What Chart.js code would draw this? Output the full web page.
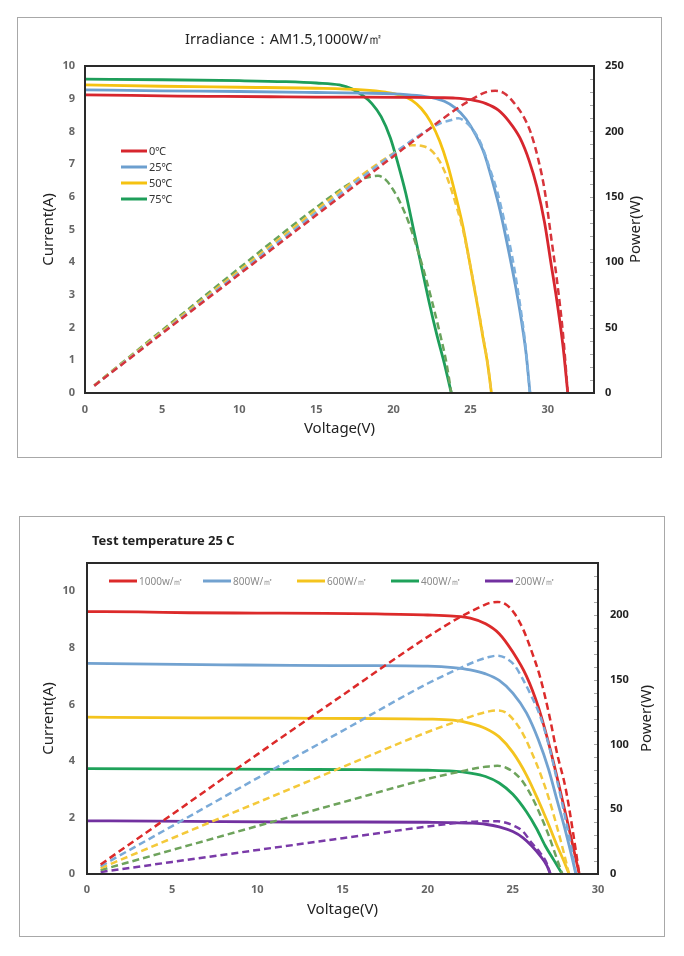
<!DOCTYPE html>
<html>
<head>
<meta charset="utf-8">
<script src="https://cdn.jsdelivr.net/npm/chart.js@4.4.0/dist/chart.umd.min.js"></script>
<style>
body { margin: 0; background: #fff; font-family: "Noto Sans", sans-serif; }
.frame { position: absolute; border: 1px solid #a8a8a8; }
.frame canvas { position: absolute; left: 0; top: 0; }
.caption { position: absolute; color: #222; white-space: nowrap; }
</style>
</head>
<body>
<div class="frame" style="left:17px;top:17px;width:643px;height:439px">
  <canvas id="tempChart" width="643" height="439"></canvas>
</div>
<div class="caption" style="left:185px;top:28px;font-size:14.5px;line-height:20px">Irradiance：AM1.5,1000W/㎡</div>

<div class="frame" style="left:19px;top:516px;width:644px;height:419px">
  <canvas id="irrChart" width="644" height="419"></canvas>
</div>
<div class="caption" style="left:92px;top:531px;font-size:13px;line-height:18px;font-weight:bold">Test temperature 25 C</div>

<script>
// ---- top chart: temperature, 1000W/m2 ([voltage, value]) ----
var tempLabels = ['0℃', '25℃', '50℃', '75℃'];
var tempColors = ['#d7262e', '#6c9fcf', '#f5c211', '#1e9e5a'];
var tempDashColors = ['#d7343b', '#7eb0dc', '#f2c53a', '#6aa35c'];

var ivT0 = [[0,9.12],[3,9.1],[6,9.08],[9,9.07],[12,9.06],[15,9.05],[18,9.05],[21,9.04],[23,9.03],[24,9.02],[25,8.97],[26,8.85],[26.8,8.65],[27.5,8.3],[28.2,7.8],[28.8,7.1],[29.3,6.3],[29.8,5.2],[30.2,4.0],[30.6,2.8],[31.0,1.4],[31.3,0]];
var ivT25 = [[0,9.27],[5,9.24],[10,9.22],[15,9.19],[18,9.17],[20,9.15],[21.5,9.1],[22.5,9.03],[23.3,8.92],[24,8.72],[24.7,8.38],[25.3,7.92],[25.9,7.3],[26.4,6.5],[26.9,5.6],[27.4,4.5],[27.9,3.3],[28.3,2.2],[28.6,1.2],[28.85,0]];
var ivT50 = [[0,9.42],[5,9.38],[10,9.35],[15,9.32],[18,9.27],[19.5,9.2],[20.5,9.1],[21.2,8.95],[21.8,8.7],[22.4,8.3],[23,7.7],[23.5,7.0],[24,6.1],[24.5,5.1],[24.9,4.1],[25.4,2.8],[25.8,1.7],[26.1,0.9],[26.35,0]];
var ivT75 = [[0,9.6],[5,9.58],[10,9.55],[13,9.52],[15,9.48],[16.5,9.42],[17.3,9.3],[18,9.1],[18.6,8.85],[19.2,8.45],[19.8,7.8],[20.3,7.0],[20.8,6.1],[21.3,5.0],[21.8,3.9],[22.3,2.8],[22.8,1.8],[23.3,0.9],[23.75,0]];

var pvT0 = [[0.6,5.5],[5,45.5],[10,90.7],[15,136],[20,181],[22,199],[24,216.5],[25,224],[26,230],[26.6,231],[27.2,229],[27.8,222],[28.4,212],[28.9,199],[29.4,178],[29.8,155],[30.2,121],[30.6,86],[31.0,44],[31.3,0]];
var pvT25 = [[0.6,5.6],[5,46],[10,92],[15,138],[20,183],[22,199.5],[23,206],[23.7,208.5],[24.2,210],[24.7,207],[25.2,200.5],[25.7,190],[26.2,173],[26.7,155],[27.2,131],[27.7,104],[28.2,68],[28.5,42],[28.85,0]];
var pvT50 = [[0.6,5.7],[5,47],[10,93.5],[15,140],[18,167],[19.5,179.5],[20.5,186.5],[21.2,189.5],[21.8,189],[22.4,186],[23,177],[23.5,164],[24,146],[24.5,125],[24.9,102],[25.4,71],[25.8,44],[26.1,23],[26.35,0]];
var pvT75 = [[0.6,5.8],[5,48],[10,95.5],[13,123.8],[15,142],[16.5,155],[17.3,161],[18,164],[18.6,165.5],[19,166],[19.5,163],[20,155],[20.5,144],[21,130],[21.5,112],[22,92],[22.5,70],[23,46],[23.4,25],[23.75,0]];

// ---- bottom chart: irradiance, 25C ----
var irrLabels = ['1000w/㎡', '800W/㎡', '600W/㎡', '400W/㎡', '200W/㎡'];
var irrColors = ['#dc2a2a', '#72a2d0', '#f4c41e', '#1fa25a', '#7231a0'];
var irrDashColors = ['#dc2a2a', '#7aaad8', '#f4c93a', '#6ea35c', '#7a3aa8'];

var ivG1000 = [[0,9.28],[3,9.27],[6,9.24],[10,9.23],[14,9.22],[17,9.2],[20,9.16],[21.5,9.12],[22.5,9.05],[23.4,8.85],[24.2,8.5],[25,7.85],[25.8,7.0],[26.5,5.9],[27.2,4.4],[27.8,2.9],[28.3,1.6],[28.6,0.8],[28.9,0]];
var ivG800 = [[0,7.45],[4,7.42],[8,7.4],[12,7.38],[16,7.37],[20,7.35],[21.5,7.3],[22.5,7.22],[23.4,7.08],[24.2,6.85],[25,6.4],[25.8,5.7],[26.5,4.75],[27.1,3.7],[27.6,2.6],[28.1,1.5],[28.45,0.65],[28.7,0]];
var ivG600 = [[0,5.55],[4,5.53],[8,5.52],[12,5.51],[16,5.5],[20,5.48],[21.5,5.44],[22.5,5.33],[23.4,5.15],[24.2,4.85],[25,4.3],[25.8,3.5],[26.5,2.6],[27.1,1.75],[27.6,1.0],[28.0,0.45],[28.3,0]];
var ivG400 = [[0,3.73],[4,3.72],[8,3.71],[12,3.7],[16,3.69],[20,3.67],[21.5,3.64],[22.5,3.57],[23.4,3.45],[24.2,3.22],[25,2.82],[25.8,2.2],[26.4,1.6],[26.9,1.0],[27.4,0.5],[27.9,0]];
var ivG200 = [[0,1.88],[4,1.87],[8,1.85],[12,1.84],[16,1.84],[20,1.83],[21.5,1.82],[22.5,1.8],[23.4,1.76],[24.2,1.67],[25,1.5],[25.6,1.28],[26.1,1.0],[26.6,0.65],[27.0,0.3],[27.2,0]];

var pvG1000 = [[0.8,7.4],[5,46],[10,92.3],[15,138],[20,183],[22,199],[23,205.5],[23.6,209],[24.1,210],[24.6,208],[25.1,201],[25.6,189],[26.1,172],[26.6,152],[27.1,125],[27.6,93],[28.1,66],[28.5,35],[28.9,0]];
var pvG800 = [[0.8,6],[5,37],[10,74],[15,110.5],[20,147],[22,159.5],[23,165],[23.6,167.5],[24.1,168.5],[24.6,166.5],[25.1,161],[25.6,150],[26.1,137],[26.6,122],[27.1,100],[27.6,72],[28.1,42],[28.45,19],[28.7,0]];
var pvG600 = [[0.8,4.5],[5,27.6],[10,55.1],[15,82.5],[20,109.6],[22,119],[23,123.5],[23.6,125.5],[24.1,126.2],[24.6,124.5],[25.1,118],[25.6,108],[26.1,94],[26.6,78],[27.1,59],[27.6,36],[28,16],[28.3,0]];
var pvG400 = [[0.8,3],[5,18.5],[10,37],[15,55.3],[20,73.4],[22,79.3],[23,82],[23.6,83],[24.1,83.5],[24.6,82],[25.1,78],[25.6,71],[26.1,60],[26.6,46],[27.1,30],[27.5,15],[27.9,0]];
var pvG200 = [[0.8,1.5],[5,9.3],[10,18.5],[15,27.6],[20,36.7],[22,39.8],[23,40.5],[23.6,40.8],[24.1,40.7],[24.6,39.5],[25.1,37],[25.6,32.8],[26.1,24],[26.6,16.5],[27.0,8],[27.2,0]];

var family = '"Noto Sans", sans-serif';

function toXY(pts) {
    return pts.map(function (p) { return {x: p[0], y: p[1]}; });
}

function ivSet(label, pts, color) {
    return {
        label: label, legend: true, data: toXY(pts), yAxisID: 'y',
        borderColor: color, borderWidth: 2.8, pointRadius: 0,
        cubicInterpolationMode: 'monotone', fill: false
    };
}

function pvSet(label, pts, color) {
    return {
        label: label + ' P', data: toXY(pts), yAxisID: 'y1',
        borderColor: color, borderWidth: 2.5, borderDash: [7, 4], pointRadius: 0,
        cubicInterpolationMode: 'monotone', fill: false
    };
}

// legend drawn inside the plot area
var insideLegend = {
    id: 'insideLegend',
    afterDatasetsDraw: function (chart, args, opts) {
        var ctx = chart.ctx, area = chart.chartArea, i = 0;
        ctx.save();
        ctx.font = opts.font;
        ctx.textBaseline = 'middle';
        chart.data.datasets.forEach(function (ds) {
            if (!ds.legend) return;
            var x = area.left + opts.x + opts.dx * i;
            var y = area.top + opts.y + opts.dy * i;
            ctx.strokeStyle = ds.borderColor;
            ctx.lineWidth = 3;
            ctx.beginPath(); ctx.moveTo(x, y); ctx.lineTo(x + opts.len, y); ctx.stroke();
            ctx.fillStyle = opts.color;
            ctx.fillText(ds.label, x + opts.len + 2, y + 1);
            i++;
        });
        ctx.restore();
    }
};

// plot frame, inner minor ticks on the power axis, power axis title (reads upward)
var frameBits = {
    id: 'frameBits',
    afterDraw: function (chart, args, opts) {
        var ctx = chart.ctx, area = chart.chartArea, s = chart.scales.y1;
        ctx.save();
        ctx.strokeStyle = '#aaa';
        ctx.lineWidth = 1;
        for (var v = s.min; v <= s.max; v += opts.step) {
            var py = Math.round(s.getPixelForValue(v)) + 0.5;
            ctx.beginPath(); ctx.moveTo(area.right - 4, py); ctx.lineTo(area.right, py); ctx.stroke();
        }
        ctx.strokeStyle = '#2a2a2a';
        ctx.lineWidth = 2;
        ctx.strokeRect(area.left, area.top, area.right - area.left, area.bottom - area.top);
        ctx.translate(area.right + opts.titleX, (area.top + area.bottom) / 2);
        ctx.rotate(-Math.PI / 2);
        ctx.font = '15px ' + family;
        ctx.fillStyle = '#222';
        ctx.textAlign = 'center';
        ctx.textBaseline = 'middle';
        ctx.fillText('Power(W)', 0, 0);
        ctx.restore();
    }
};

function makeOptions(c) {
    return {
        responsive: false,
        animation: false,
        devicePixelRatio: 1,
        layout: { padding: c.padding },
        plugins: {
            legend: { display: false },
            tooltip: { enabled: false },
            insideLegend: c.legend,
            frameBits: { step: 10, titleX: c.powerTitleX }
        },
        scales: {
            x: {
                type: 'linear', min: 0, max: c.xMax,
                afterFit: function (s) { s.height = c.xH; },
                grid: { display: false, drawTicks: false }, border: { display: false },
                ticks: { stepSize: 5, includeBounds: false, padding: c.xPad, color: '#666',
                         font: { family: family, size: 11, weight: 'bold' } },
                title: { display: true, text: 'Voltage(V)', color: '#222',
                         font: { family: family, size: 15 }, padding: { top: 0, bottom: c.xTitlePad } }
            },
            y: {
                position: 'left', min: 0, max: c.yMax,
                afterFit: function (s) { s.width = c.yW; },
                grid: { display: false, drawTicks: false }, border: { display: false },
                ticks: { stepSize: c.yStep, includeBounds: false, padding: c.yPad, color: '#666',
                         font: { family: family, size: 11, weight: 'bold' } },
                title: { display: true, text: 'Current(A)', color: '#222',
                         font: { family: family, size: 15 }, padding: { top: c.yTitlePad, bottom: 0 } }
            },
            y1: {
                position: 'right', min: 0, max: c.pMax,
                afterFit: function (s) { s.width = c.pW; },
                grid: { display: false, drawTicks: false }, border: { display: false },
                ticks: { stepSize: 50, includeBounds: false, padding: c.pPad, color: '#222',
                         font: { family: family, size: 11, weight: 'bold' } }
            }
        }
    };
}

var tempSets = [];
[pvT0, pvT25, pvT50, pvT75].forEach(function (pts, i) { tempSets.push(pvSet(tempLabels[i], pts, tempDashColors[i])); });
[ivT0, ivT25, ivT50, ivT75].forEach(function (pts, i) { tempSets.push(ivSet(tempLabels[i], pts, tempColors[i])); });

new Chart(document.getElementById('tempChart'), {
    type: 'line',
    data: { datasets: tempSets },
    options: makeOptions({
        padding: { left: 20, right: 10, top: 48, bottom: 12 },
        xMax: 33, xH: 52, xPad: 10, xTitlePad: 7,
        yMax: 10, yStep: 1, yW: 47, yPad: 10, yTitlePad: 2,
        pMax: 250, pW: 57, pPad: 11, powerTitleX: 42,
        legend: { x: 36, y: 85, dx: 0, dy: 16, len: 26, font: '11px ' + family, color: '#333' }
    }),
    plugins: [insideLegend, frameBits]
});

var irrSets = [];
[pvG1000, pvG800, pvG600, pvG400, pvG200].forEach(function (pts, i) { irrSets.push(pvSet(irrLabels[i], pts, irrDashColors[i])); });
[ivG1000, ivG800, ivG600, ivG400, ivG200].forEach(function (pts, i) { irrSets.push(ivSet(irrLabels[i], pts, irrColors[i])); });

new Chart(document.getElementById('irrChart'), {
    type: 'line',
    data: { datasets: irrSets },
    options: makeOptions({
        padding: { left: 20, right: 8, top: 46, bottom: 12 },
        xMax: 30, xH: 50, xPad: 9, xTitlePad: 5,
        yMax: 11, yStep: 2, yW: 47, yPad: 12, yTitlePad: 0,
        pMax: 240, pW: 58, pPad: 12, powerTitleX: 49,
        legend: { x: 22, y: 18, dx: 94, dy: 0, len: 28, font: '10px ' + family, color: '#8a8a8a' }
    }),
    plugins: [insideLegend, frameBits]
});
</script>
</body>
</html>
